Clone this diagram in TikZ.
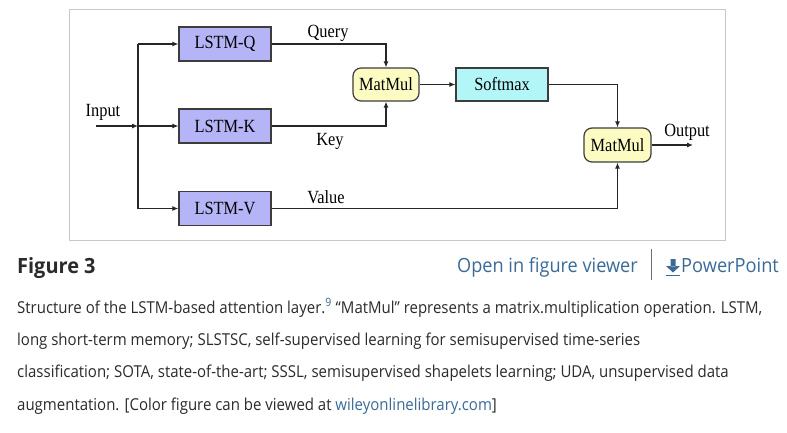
\documentclass[tikz,border=0pt]{standalone}
\usepackage{fontspec}
\usepackage{graphicx}
\usetikzlibrary{arrows.meta}
\newfontfamily\tnr{Liberation Serif}
\newfontfamily\osans{Open Sans}
\newcommand\sq[1]{\scalebox{0.88}[1]{#1}}
\newcommand\sqx[2]{\scalebox{#1}[1]{#2}}
\definecolor{lstmfill}{HTML}{B4B4F6}
\definecolor{softfill}{HTML}{B2F6F8}
\definecolor{matfill}{HTML}{FCFBC2}
\definecolor{boxline}{HTML}{3C3C3C}
\definecolor{frameline}{HTML}{C8C8C8}
\definecolor{captext}{HTML}{2B2B2B}
\definecolor{linkblue}{HTML}{3A6B98}
\definecolor{sepgray}{HTML}{6E6E6E}
\tikzset{
  figtext/.style={font=\tnr\fontsize{18.6}{20}\selectfont, text=black, inner sep=0pt},
  sqbox/.style={draw=boxline, line width=1.2pt, minimum width=92pt, minimum height=34pt, inner sep=0pt, figtext},
  lstm/.style={sqbox, fill=lstmfill},
  soft/.style={sqbox, fill=softfill, minimum height=33pt},
  matmul/.style={draw=boxline, line width=1.2pt, fill=matfill, rounded corners=8pt, minimum width=66pt, minimum height=33pt, inner sep=0pt, figtext},
  conn/.style={draw=black!85, line width=1.1pt, -{Latex[length=6pt,width=5pt]}},
  plain/.style={draw=black!85, line width=1.1pt},
  lbl/.style={figtext, anchor=base},
  captxt/.style={font=\osans\fontsize{16.4}{18}\selectfont, text=captext, anchor=base west, inner sep=0pt},
}
\begin{document}
\begin{tikzpicture}[x=1pt,y=-1pt]
\useasboundingbox (0,0) rectangle (787,432);
\fill[white] (0,0) rectangle (787,432);
% figure frame
\draw[frameline, line width=1pt] (69.5,9.5) rectangle (725.5,240.5);
% nodes
\node[lstm] (lq) at (225,44) {\sq{LSTM-Q}};
\node[lstm] (lk) at (225,126) {\sq{LSTM-K}};
\node[lstm] (lv) at (225,208.5) {\sq{LSTM-V}};
\node[matmul] (mm1) at (386,84.5) {\sq{MatMul}};
\node[soft] (sm) at (502,84.5) {\sq{Softmax}};
\node[matmul, minimum width=67pt, minimum height=34pt] (mm2) at (617.5,145) {\sq{MatMul}};
\coordinate (in) at (96,126);
\coordinate (br) at (138,126);
\coordinate (brq) at (138,44);
\coordinate (brv) at (138,208.5);
\coordinate (out) at (693,145);
% labels
\node[lbl] (tin) at (103,116.5) {\sq{Input}};
\node[lbl] (tq) at (328,37) {\sq{Query}};
\node[lbl] (tk) at (330,145) {\sq{Key}};
\node[lbl] (tv) at (326,203) {\sq{Value}};
\node[lbl] (tout) at (687,136.5) {\sq{Output}};
% connectors
\draw[conn] (in) -- (br);
\draw[plain] (brq) -- (brv);
\draw[conn] (br) -- (lk.west);
\draw[conn] (brq) -- (lq.west);
\draw[conn] (brv) -- (lv.west);
\draw[conn] (lq.east) -| (mm1.north);
\draw[conn] (lk.east) -| (mm1.south);
\draw[conn] (mm1.east) -- (sm.west);
\draw[conn] (sm.east) -| (mm2.north);
\draw[conn] (lv.east) -| (mm2.south);
\draw[conn] (mm2.east) -- (out);
% header
\node[font=\osans\bfseries\fontsize{21}{24}\selectfont, text=captext, anchor=base west, inner sep=0pt] (fig) at (17,273) {\sqx{0.95}{Figure 3}};
\node[font=\osans\fontsize{19.6}{22}\selectfont, text=linkblue, anchor=base west, inner sep=0pt] (ofv) at (457,272) {\sqx{0.925}{Open in figure viewer}};
\draw[sepgray, line width=1pt] (651,249) -- (651,280);
\fill[linkblue] (670.5,259) rectangle (675.5,266.5) (666,266) -- (680,266) -- (673,272.5) -- cycle;
\draw[linkblue, line width=1.6pt] (666,275.5) -- (680,275.5);
\node[font=\osans\fontsize{19.6}{22}\selectfont, text=linkblue, anchor=base west, inner sep=0pt] (ppt) at (681,272) {\sqx{0.93}{PowerPoint}};
% caption
\node[captxt] (c1) at (17,313) {\sqx{0.914}{Structure of the LSTM-based attention layer.\textsuperscript{\color{linkblue}9} “MatMul” represents a matrix.multiplication operation. LSTM,}};
\node[captxt] (c2) at (17,345.3) {\sqx{0.914}{long short-term memory; SLSTSC, self-supervised learning for semisupervised time-series}};
\node[captxt] (c3) at (17,377.6) {\sqx{0.914}{classification; SOTA, state-of-the-art; SSSL, semisupervised shapelets learning; UDA, unsupervised data}};
\node[captxt] (c4) at (17,410) {\sqx{0.914}{augmentation. [Color figure can be viewed at \textcolor{linkblue}{wileyonlinelibrary.com}]}};
\end{tikzpicture}
\end{document}
